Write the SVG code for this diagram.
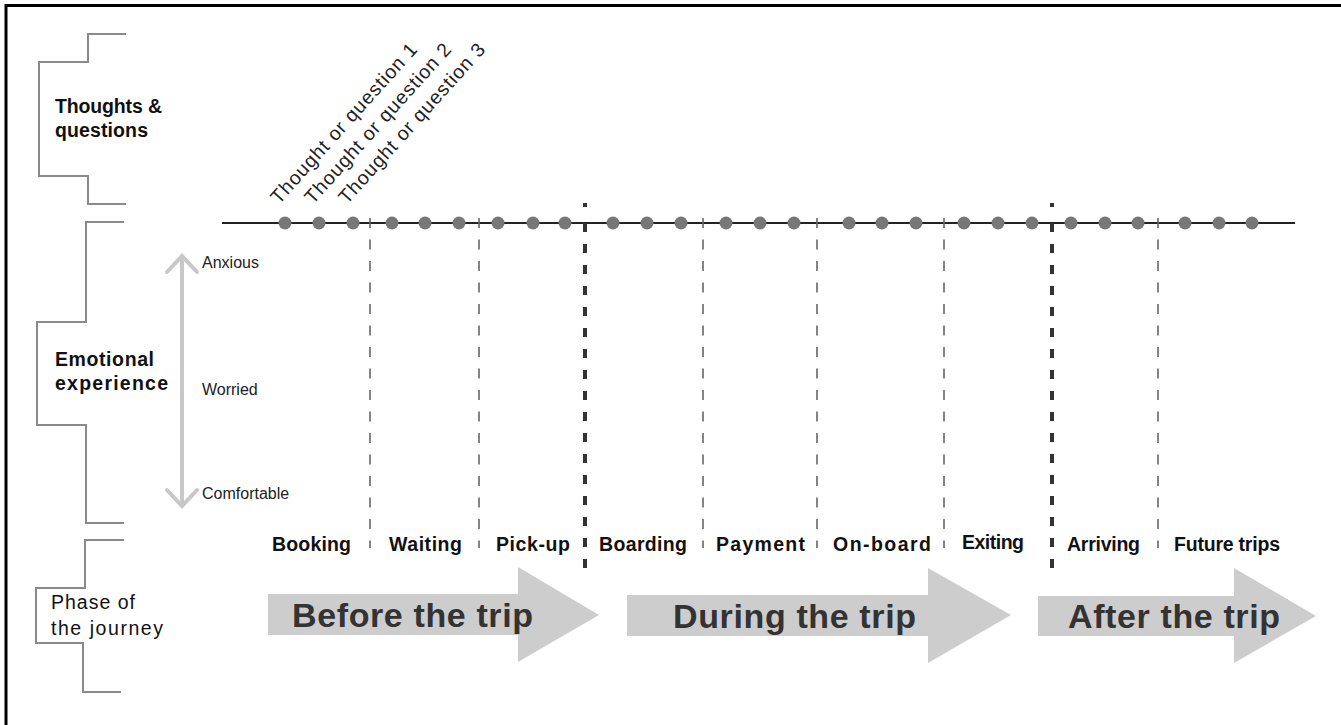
<svg xmlns="http://www.w3.org/2000/svg" width="1341" height="725" viewBox="0 0 1341 725">
<defs>
<style>
.frame{fill:none;stroke:#000;stroke-width:3}
.brk{fill:none;stroke:#8a8a8a;stroke-width:2}
.lbl{font-family:"Liberation Sans",Arial,sans-serif;font-size:19.5px;fill:#111}
.b{font-weight:bold}
.emo{font-family:"Liberation Sans",Arial,sans-serif;font-size:16px;fill:#222}
.thought{font-family:"Liberation Sans",Arial,sans-serif;font-size:19.5px;fill:#222}
.phase{font-family:"Liberation Sans",Arial,sans-serif;font-size:19.5px;font-weight:bold;fill:#111}
.big{font-family:"Liberation Sans",Arial,sans-serif;font-size:34px;font-weight:bold;fill:#333}
.bigarrow{fill:#cdcdcd}
.dot{fill:#777}
.thin{stroke:#666;stroke-width:1.6;stroke-dasharray:10 11.5;fill:none}
.thick{stroke:#333;stroke-width:4;stroke-dasharray:4 16 9 12 9 12 9 12 9 12 9 12 9 12 9 12 9 12 9 12 9 12 9 12 9 12 9 12 9 12 9 12 9 12 9 12 9 12;fill:none}
.emoarrow{stroke:#c8c8c8;stroke-width:4;fill:none;stroke-linecap:round}
</style>
</defs>
<rect width="1341" height="725" fill="#fff"/>
<path class="frame" d="M1341,5.5 H6 V725"/>

<g id="row-thoughts">
<path class="brk" d="M126,34 H88 V62 H39 V176 H88 V204 H126"/>
<text class="lbl b" x="55" y="113" textLength="107">Thoughts &amp;</text>
<text class="lbl b" x="55" y="137" textLength="93">questions</text>
</g>

<g id="row-emotion">
<path class="brk" d="M124,222 H86 V322 H37 V425 H86 V523 H124"/>
<text class="lbl b" x="55" y="366" textLength="99">Emotional</text>
<text class="lbl b" x="55" y="390" textLength="113">experience</text>
<path class="emoarrow" d="M182,257 V505 M167,272 L182,256 L197,272 M167,490 L182,506 L197,490"/>
<text class="emo" x="202" y="268">Anxious</text>
<text class="emo" x="202" y="395">Worried</text>
<text class="emo" x="202" y="499">Comfortable</text>
</g>

<g id="row-phase">
<path class="brk" d="M124,540 H85 V588 H36 V643 H83 V692 H121"/>
<text class="lbl" x="51" y="609" textLength="84">Phase of</text>
<text class="lbl" x="51" y="635" textLength="112">the journey</text>
</g>

<g id="connectors">
<line x1="222" y1="223" x2="1295" y2="223" stroke="#222" stroke-width="2"/>
<line class="thin" x1="370" y1="218" x2="370" y2="548"/>
<line class="thin" x1="479" y1="218" x2="479" y2="548"/>
<line class="thin" x1="703" y1="218" x2="703" y2="548"/>
<line class="thin" x1="817" y1="218" x2="817" y2="548"/>
<line class="thin" x1="944" y1="218" x2="944" y2="548"/>
<line class="thin" x1="1158" y1="218" x2="1158" y2="548"/>
<line class="thick" x1="585" y1="203" x2="585" y2="571"/>
<line class="thick" x1="1052" y1="203" x2="1052" y2="571"/>
</g>

<g id="dots">
<circle class="dot" cx="285" cy="223" r="6.5"/>
<circle class="dot" cx="319" cy="223" r="6.5"/>
<circle class="dot" cx="353" cy="223" r="6.5"/>
<circle class="dot" cx="392" cy="223" r="6.5"/>
<circle class="dot" cx="425" cy="223" r="6.5"/>
<circle class="dot" cx="459" cy="223" r="6.5"/>
<circle class="dot" cx="498" cy="223" r="6.5"/>
<circle class="dot" cx="533" cy="223" r="6.5"/>
<circle class="dot" cx="565" cy="223" r="6.5"/>
<circle class="dot" cx="613" cy="223" r="6.5"/>
<circle class="dot" cx="647" cy="223" r="6.5"/>
<circle class="dot" cx="681" cy="223" r="6.5"/>
<circle class="dot" cx="726" cy="223" r="6.5"/>
<circle class="dot" cx="760" cy="223" r="6.5"/>
<circle class="dot" cx="794" cy="223" r="6.5"/>
<circle class="dot" cx="849" cy="223" r="6.5"/>
<circle class="dot" cx="882" cy="223" r="6.5"/>
<circle class="dot" cx="916" cy="223" r="6.5"/>
<circle class="dot" cx="964" cy="223" r="6.5"/>
<circle class="dot" cx="998" cy="223" r="6.5"/>
<circle class="dot" cx="1032" cy="223" r="6.5"/>
<circle class="dot" cx="1071" cy="223" r="6.5"/>
<circle class="dot" cx="1105" cy="223" r="6.5"/>
<circle class="dot" cx="1138" cy="223" r="6.5"/>
<circle class="dot" cx="1185" cy="223" r="6.5"/>
<circle class="dot" cx="1219" cy="223" r="6.5"/>
<circle class="dot" cx="1252" cy="223" r="6.5"/>
</g>

<g id="thoughts">
<text class="thought" transform="translate(279,205) rotate(-48)" textLength="208">Thought or question 1</text>
<text class="thought" transform="translate(313,205) rotate(-48)" textLength="208">Thought or question 2</text>
<text class="thought" transform="translate(347,205) rotate(-48)" textLength="208">Thought or question 3</text>
</g>

<g id="steps">
<text class="phase" x="272" y="551" textLength="79">Booking</text>
<text class="phase" x="389" y="551" textLength="73">Waiting</text>
<text class="phase" x="496" y="551" textLength="74">Pick-up</text>
<text class="phase" x="599" y="551" textLength="88">Boarding</text>
<text class="phase" x="716" y="551" textLength="89">Payment</text>
<text class="phase" x="833" y="551" textLength="98">On-board</text>
<text class="phase" x="962" y="549" textLength="62">Exiting</text>
<text class="phase" x="1067" y="551" textLength="73">Arriving</text>
<text class="phase" x="1174" y="551" textLength="106">Future trips</text>
</g>

<g id="phase-before">
<path class="bigarrow" d="M268,594 H518 V567 L599,615 L518,662 V635 H268 Z"/>
<text class="big" x="292" y="627" textLength="241">Before the trip</text>
</g>
<g id="phase-during">
<path class="bigarrow" d="M627,595 H928 V568 L1011,615 L928,663 V636 H627 Z"/>
<text class="big" x="673" y="628" textLength="243">During the trip</text>
</g>
<g id="phase-after">
<path class="bigarrow" d="M1038,596 H1234 V568 L1316,616 L1234,663 V636 H1038 Z"/>
<text class="big" x="1068" y="628" textLength="212">After the trip</text>
</g>
</svg>
